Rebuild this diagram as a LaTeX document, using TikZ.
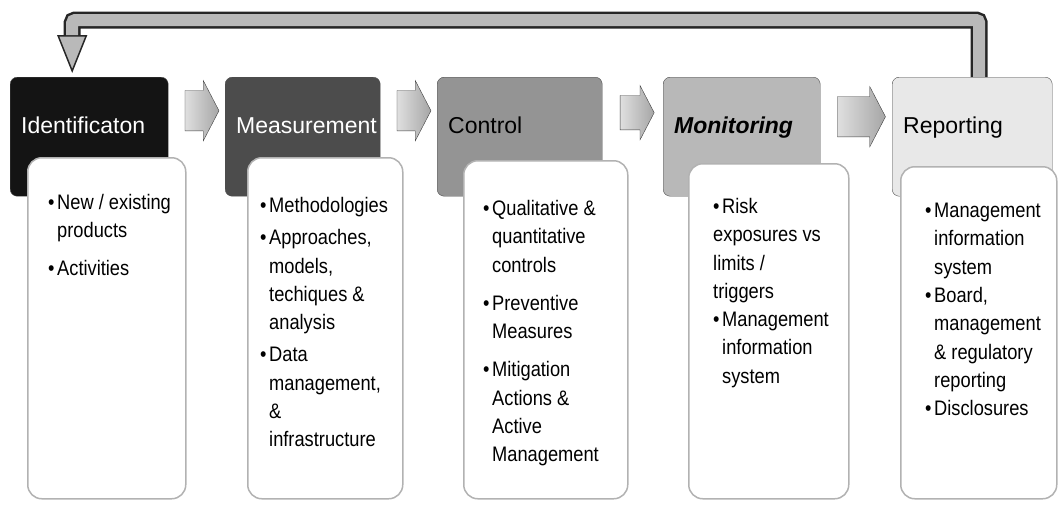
\documentclass[tikz,border=0pt]{standalone}
\usepackage{fontspec}
\setmainfont{Liberation Sans}
\newfontfamily\listfont{Liberation Sans}[FakeStretch=0.87]
\usetikzlibrary{calc,shapes.arrows,arrows.meta}

% bullet and hanging indent for the lists
\newcommand{\bul}{\makebox[9pt][l]{\textbullet}}
\newcommand{\ind}{\hspace*{9pt}}

\begin{document}
\begin{tikzpicture}[x=1pt, y=-1pt,
    head/.style = {draw=black!70, rounded corners=7pt, anchor=north west, align=left,
                   text height=56pt, text depth=63pt, inner ysep=0pt, inner xsep=11pt,
                   font=\fontsize{23}{26}\selectfont},
    box/.style  = {draw=gray!60, line width=1.5pt, fill=white, rounded corners=14pt,
                   anchor=north west, inner sep=0pt},
    list/.style = {anchor=north west, inner sep=0pt, align=left,
                   font=\listfont\fontsize{21}{28.3}\selectfont},
    chev/.style = {single arrow, draw=black!75, left color=gray!25, right color=gray!70,
                   minimum height=34pt, inner xsep=0pt, inner ysep=20pt,
                   single arrow head extend=10pt, single arrow tip angle=125},
    fb/.style   = {line width=17pt, black!85, rounded corners=3pt}]
    \useasboundingbox (0,0) rectangle (1058,507);

    % the five stages
    \node[head, fill=black!92, text width=136pt, text=white] (h1) at (10,77) {Identificaton};
    \node[head, fill=black!70, text width=133pt, text=white] (h2) at (225,77) {Measurement};
    \node[head, fill=black!42, text width=143pt] (h3) at (437,77) {Control};
    \node[head, fill=black!28, text width=135pt, font=\fontsize{23}{26}\selectfont\bfseries\itshape] (h4) at (663,77) {Monitoring};
    \node[head, fill=black!9, text width=138pt] (h5) at (892,77) {Reporting};

    % white boxes under each stage
    \node[box, minimum width=158pt, minimum height=341pt] (b1) at (27,157) {};
    \node[box, minimum width=155pt, minimum height=341pt] (b2) at (247,157) {};
    \node[box, minimum width=164pt, minimum height=338pt] (b3) at (463,160) {};
    \node[box, minimum width=160pt, minimum height=335pt] (b4) at (688,163) {};
    \node[box, minimum width=156pt, minimum height=332pt] (b5) at (900,166) {};

    \node[list] (l1) at ([shift={(21pt,-37pt)}]b1.north west)
        {\bul New / existing\\ \ind products\\[9pt] \bul Activities};
    \node[list] (l2) at ([shift={(13pt,-40pt)}]b2.north west)
        {\bul Methodologies\\[4pt] \bul Approaches,\\ \ind models,\\ \ind techiques \&\\ \ind analysis\\[4pt]
         \bul Data\\ \ind management,\\ \ind \&\\ \ind infrastructure};
    \node[list] (l3) at ([shift={(20pt,-40pt)}]b3.north west)
        {\bul Qualitative \&\\ \ind quantitative\\ \ind controls\\[10pt] \bul Preventive\\ \ind Measures\\[10pt]
         \bul Mitigation\\ \ind Actions \&\\ \ind Active\\ \ind Management};
    \node[list] (l4) at ([shift={(25pt,-35pt)}]b4.north west)
        {\bul Risk\\ exposures vs\\ limits /\\ triggers\\ \bul Management\\ \ind information\\ \ind system};
    \node[list] (l5) at ([shift={(25pt,-37pt)}]b5.north west)
        {\bul Management\\ \ind information\\ \ind system\\ \bul Board,\\ \ind management\\ \ind \& regulatory\\ \ind reporting\\ \bul Disclosures};

    % arrows between the stages
    \node[chev] (a1) at ([yshift=26pt]$(h1.east)!0.5!(h2.west)$) {};
    \node[chev] (a2) at ([yshift=26pt]$(h2.east)!0.5!(h3.west)$) {};
    \node[chev, inner ysep=17pt] (a3) at ([yshift=24pt]$(h3.east)!0.5!(h4.west)$) {};
    \node[chev, minimum height=48pt] (a4) at ([yshift=20pt]$(h4.east)!0.5!(h5.west)$) {};

    % feedback from reporting back to identification
    \coordinate (top) at (0,20);
    \draw[fb, shorten >=4pt, -{Triangle[width=30pt, length=38pt, line width=1.5pt, fill=gray!55]}]
        ([xshift=7pt]h5.north) -- ([xshift=7pt]h5.north |- top) -| ([xshift=-17pt]h1.north);
    \draw[fb, line width=12pt, gray!55, shorten >=42pt]
        ([xshift=7pt]h5.north) -- ([xshift=7pt]h5.north |- top) -| ([xshift=-17pt]h1.north);
\end{tikzpicture}
\end{document}
